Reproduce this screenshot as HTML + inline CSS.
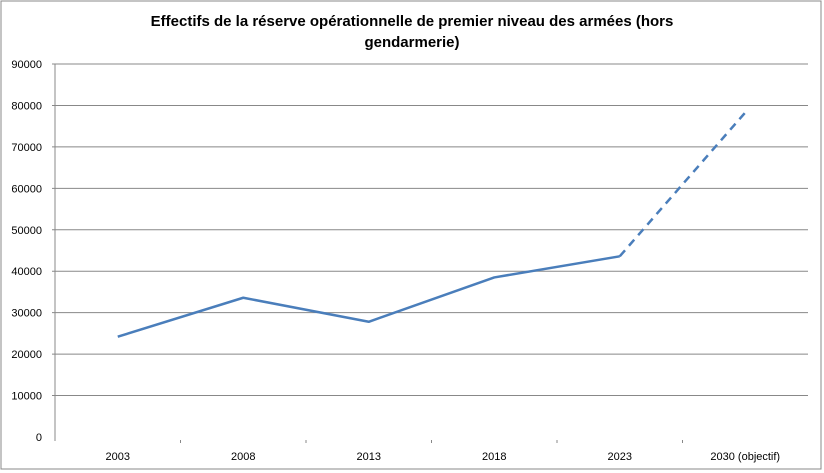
<!DOCTYPE html>
<html><head><meta charset="utf-8"><style>
body{margin:0;background:#fff}
svg{display:block;font-family:"Liberation Sans",sans-serif}
</style></head><body>
<svg width="824" height="473">
<rect x="1" y="1" width="820" height="468" fill="#fff" stroke="#888" stroke-width="1"/>
<text x="412" y="26" text-anchor="middle" font-size="15" font-weight="bold">Effectifs de la réserve opérationnelle de premier niveau des armées (hors</text>
<text x="412" y="47" text-anchor="middle" font-size="15" font-weight="bold">gendarmerie)</text>
<g id="grid"></g><g id="axes"></g><g id="series"></g>
</svg>
<script>
const categories=["2003","2008","2013","2018","2023","2030 (objectif)"];
const values=[24200,33600,27800,38500,43600,78300];
const yTicks=[0,10000,20000,30000,40000,50000,60000,70000,80000,90000];
const NS="http://www.w3.org/2000/svg";
const L=55,R=808,T=64,B=437,yMax=90000;
const bw=(R-L)/categories.length;
const x=i=>L+bw*(i+0.5);
const y=v=>B-(v/yMax)*(B-T);
function mk(t,a,p){const e=document.createElementNS(NS,t);for(const k in a)e.setAttribute(k,a[k]);p.appendChild(e);return e;}
const grid=document.getElementById('grid'),axes=document.getElementById('axes'),ser=document.getElementById('series');
yTicks.forEach(v=>{
  if(v>0){const g=mk('line',{x1:52,x2:R,y1:y(v),y2:y(v),stroke:'#888','stroke-width':1},grid);
  
  }
  const t=mk('text',{x:42,y:y(v)+4,'text-anchor':'end','font-size':11},axes);t.textContent=v;
  
  
});
const ya=mk('line',{x1:L,x2:L,y1:T,y2:B+4,stroke:'#888'},axes);


for(let i=1;i<categories.length;i++){const tk=mk('line',{x1:L+bw*i,x2:L+bw*i,y1:B+3,y2:B+6,stroke:'#888'},axes);

}
categories.forEach((c,i)=>{const t=mk('text',{x:x(i),y:460,'text-anchor':'middle','font-size':11},axes);t.textContent=c;

});
const n=values.length;
let pts=values.slice(0,n-1).map((v,i)=>x(i)+','+y(v)).join(' ');
const solid=mk('polyline',{points:pts,fill:'none',stroke:'#4a7ebb','stroke-width':2.5,'stroke-linejoin':'round'},ser);


const dash=mk('line',{x1:x(n-2),y1:y(values[n-2]),x2:x(n-1),y2:y(values[n-1]),stroke:'#4a7ebb','stroke-width':2.5,'stroke-dasharray':'8,6'},ser);


</script>
</body></html>
